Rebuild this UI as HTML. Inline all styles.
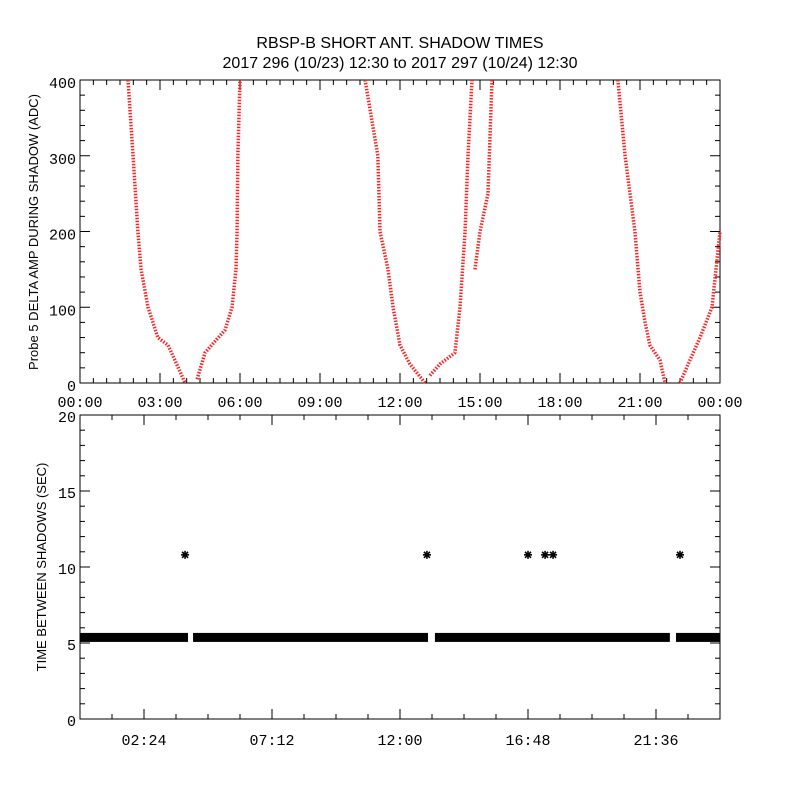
<!DOCTYPE html>
<html><head><meta charset="utf-8"><style>
body{margin:0;background:#fff}
svg{font-family:"Liberation Sans",sans-serif}
</style></head><body>
<svg id="c" width="800" height="800" xmlns="http://www.w3.org/2000/svg">
<rect width="800" height="800" fill="#fff"/>
<text x="400" y="48" text-anchor="middle" font-size="16">RBSP-B SHORT ANT. SHADOW TIMES</text>
<text x="400" y="68" text-anchor="middle" font-size="16">2017 296 (10/23) 12:30 to 2017 297 (10/24) 12:30</text>
<text transform="translate(38,232) rotate(-90)" text-anchor="middle" font-size="13">Probe 5 DELTA AMP DURING SHADOW (ADC)</text>
<text transform="translate(46,567) rotate(-90)" text-anchor="middle" font-size="13">TIME BETWEEN SHADOWS (SEC)</text>
<g id="topPanel"></g><g id="botPanel"></g>
</svg>
<script>
// Top panel data: branches of (hour, ADC)
const b1h=[1.80,1.99,2.17,2.29,2.55,2.92,3.30,3.56,3.94];
const b1v=[400,300,200,150,100,60,50,30,0];
const b2h=[4.39,4.69,5.06,5.44,5.70,5.85,5.89,5.92,6.00];
const b2v=[5,40,55,70,100,150,200,300,400];
const b3h=[10.69,11.17,11.25,11.55,11.74,12.00,12.37,12.94];
const b3v=[400,300,200,150,100,50,25,0];
const b4h=[13.12,13.50,14.06,14.25,14.44,14.55,14.70];
const b4v=[10,25,40,100,200,300,400];
const b5h=[14.81,15.00,15.30,15.45];
const b5v=[150,200,250,400];
const b6h=[20.17,20.44,20.81,21.00,21.19,21.37,21.75,21.94];
const b6v=[400,300,200,120,80,50,30,0];
const b7h=[22.50,22.87,23.25,23.70,24.0];
const b7v=[0,30,60,100,200];
const topXLabels=["00:00","03:00","06:00","09:00","12:00","15:00","18:00","21:00","00:00"];
const topYLabels=[0,100,200,300,400];
// Bottom panel data
const segStart=[0,4.24,13.31,22.35];
const segEnd=[4.05,13.05,22.12,24];
const bandVal=[5.4,5.4,5.4,5.4];
const starH=[3.94,13.01,16.8,17.44,17.74,22.5];
const starV=[10.8,10.8,10.8,10.8,10.8,10.8];
const botXLabels=["02:24","07:12","12:00","16:48","21:36"];
const botYLabels=[0,5,10,15,20];

const NS="http://www.w3.org/2000/svg";
function mk(p,t,a){const e=document.createElementNS(NS,t);for(const k in a)e.setAttribute(k,a[k]);p.appendChild(e);return e;}
const X0=80,X1=720;
const xs=h=>X0+h/24*(X1-X0);
const ty=v=>383-v/400*303;
const by=v=>719-v/20*304;
const gTop=document.getElementById('topPanel'),gBot=document.getElementById('botPanel');

function frame(g,y0,y1,name){
  const r=mk(g,'rect',{x:X0,y:y0,width:X1-X0,height:y1-y0,fill:'none',stroke:'#000','stroke-width':1});
  
  
}
frame(gTop,80,383,'top-plot-frame');
frame(gBot,415,719,'bottom-plot-frame');

// top axes
for(let v=0;v<=400;v+=20){const y=ty(v),L=v%100==0?10:5;
  mk(gTop,'line',{x1:X0,x2:X0+L,y1:y,y2:y,stroke:'#000'});
  mk(gTop,'line',{x1:X1,x2:X1-L,y1:y,y2:y,stroke:'#000'});}
topYLabels.forEach(v=>{const t=mk(gTop,'text',{x:76,y:ty(v)+8,'text-anchor':'end','font-size':15,'font-family':'Liberation Mono'});t.textContent=v;
  
  });
for(let h=0;h<=24;h+=0.5){const x=xs(h),L=h%3==0?10:5;
  mk(gTop,'line',{x1:x,x2:x,y1:383,y2:383-L,stroke:'#000'});
  mk(gTop,'line',{x1:x,x2:x,y1:80,y2:80+L,stroke:'#000'});}
topXLabels.forEach((s,i)=>{const t=mk(gTop,'text',{x:xs(i*3),y:407,'text-anchor':'middle','font-size':15,'font-family':'Liberation Mono'});t.textContent=s;
  
  });
[[b1h,b1v],[b2h,b2v],[b3h,b3v],[b4h,b4v],[b5h,b5v],[b6h,b6v],[b7h,b7v]].forEach(([H,V],bi)=>{
  const pts=H.map((h,i)=>xs(h)+','+ty(V[i])).join(' ');
  const p=mk(gTop,'polyline',{points:pts,fill:'none',stroke:'#f22','stroke-width':3.5,'stroke-dasharray':'1.5 1.5','stroke-linejoin':'round'});
  
  
});

// bottom axes
for(let v=0;v<=20;v++){const y=by(v),L=v%5==0?10:5;
  mk(gBot,'line',{x1:X0,x2:X0+L,y1:y,y2:y,stroke:'#000'});
  mk(gBot,'line',{x1:X1,x2:X1-L,y1:y,y2:y,stroke:'#000'});}
botYLabels.forEach(v=>{const t=mk(gBot,'text',{x:76,y:by(v)+7,'text-anchor':'end','font-size':15,'font-family':'Liberation Mono'});t.textContent=v;
  
  });
for(let k=0;k<=20;k++){const x=xs(k*1.2),L=k%4==2?10:5;
  mk(gBot,'line',{x1:x,x2:x,y1:719,y2:719-L,stroke:'#000'});
  mk(gBot,'line',{x1:x,x2:x,y1:415,y2:415+L,stroke:'#000'});}
botXLabels.forEach((s,i)=>{const t=mk(gBot,'text',{x:xs(2.4+i*4.8),y:745,'text-anchor':'middle','font-size':15,'font-family':'Liberation Mono'});t.textContent=s;
  
  });
segStart.forEach((s,i)=>{
  const r=mk(gBot,'rect',{x:xs(s),y:by(bandVal[i])-4,width:xs(segEnd[i])-xs(s),height:9,fill:'#000'});
  
  
});
starH.forEach((h,i)=>{const x=xs(h),y=by(starV[i]);
  const g=mk(gBot,'g',{stroke:'#000','stroke-width':1.6});
  
  
  mk(g,'line',{x1:x-4,x2:x+4,y1:y,y2:y});
  mk(g,'line',{x1:x,x2:x,y1:y-4,y2:y+4});
  mk(g,'line',{x1:x-3,x2:x+3,y1:y-3,y2:y+3});
  mk(g,'line',{x1:x-3,x2:x+3,y1:y+3,y2:y-3});
});
</script>
</body></html>
